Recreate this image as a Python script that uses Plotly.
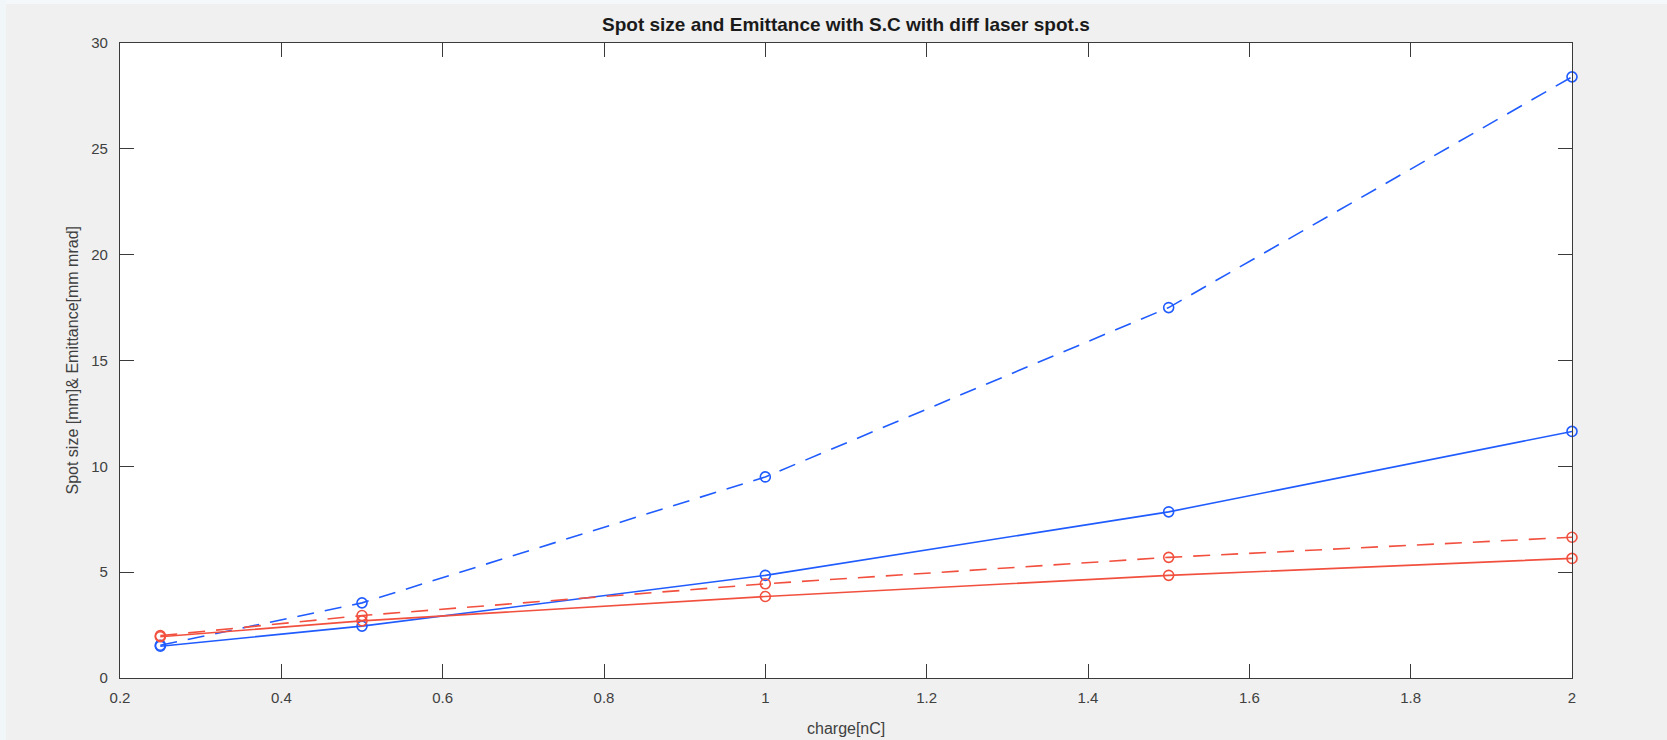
import plotly.graph_objects as go

# charge in nC
charge = [0.25, 0.5, 1.0, 1.5, 2.0]

# spot size / emittance series
blue_dashed = [1.55, 3.55, 9.5, 17.5, 28.4]
blue_solid = [1.5, 2.45, 4.85, 7.85, 11.65]
red_dashed = [2.0, 2.95, 4.45, 5.7, 6.65]
red_solid = [1.95, 2.7, 3.85, 4.85, 5.65]

x_ticks = [0.2, 0.4, 0.6, 0.8, 1.0, 1.2, 1.4, 1.6, 1.8, 2.0]
x_tick_text = ["0.2", "0.4", "0.6", "0.8", "1", "1.2", "1.4", "1.6", "1.8", "2"]
y_ticks = [0, 5, 10, 15, 20, 25, 30]

BLUE = "#1f5bff"
RED = "#f2503f"
AXIS = "#3a3a3a"
FONT = "Liberation Sans, Arial, Helvetica, sans-serif"

W, H = 1667, 740
L, R, T, B = 120, 95, 43, 62
PW, PH = W - L - R, H - T - B

fig = go.Figure()

series = [
    (blue_dashed, BLUE, "17px,11px"),
    (blue_solid, BLUE, "solid"),
    (red_dashed, RED, "17px,11px"),
    (red_solid, RED, "solid"),
]
for ys, color, dash in series:
    fig.add_trace(go.Scatter(
        x=charge, y=ys, mode="lines+markers",
        line=dict(color=color, width=1.6, dash=dash),
        marker=dict(symbol="circle-open", size=10, color=color,
                    line=dict(width=1.6, color=color)),
        showlegend=False, cliponaxis=False,
    ))

axis_common = dict(
    showline=True, linecolor=AXIS, linewidth=1.3, mirror="ticks",
    ticks="inside", ticklen=14, tickwidth=1.1, tickcolor=AXIS,
    showgrid=False, zeroline=False,
    tickfont=dict(family=FONT, size=15, color="#404040"),
)

fig.update_xaxes(range=[0.2, 2.0], tickvals=x_ticks, ticktext=x_tick_text,
                 ticklabelstandoff=6, **axis_common)
fig.update_yaxes(range=[0, 30], tickvals=y_ticks,
                 ticklabelstandoff=8, **axis_common)

# outer window strips along the top and left edges
fig.add_shape(type="rect", xref="paper", yref="paper", layer="below",
              x0=-L / PW, x1=(W - L) / PW, y0=1 + (T - 4) / PH, y1=1 + T / PH,
              fillcolor="#f4f8fb", line=dict(width=0))
fig.add_shape(type="rect", xref="paper", yref="paper", layer="below",
              x0=-L / PW, x1=(6 - L) / PW, y0=-B / PH, y1=1 + T / PH,
              fillcolor="#f1f6f9", line=dict(width=0))

fig.add_annotation(
    text="Spot size and Emittance with S.C with diff laser spot.s",
    xref="paper", yref="paper", x=0.5, y=1 + (T - 24) / PH,
    xanchor="center", yanchor="middle", showarrow=False,
    font=dict(family=FONT, size=19, color="#1a1a1a", weight="bold"),
)
fig.add_annotation(
    text="charge[nC]", xref="paper", yref="paper",
    x=0.5, y=-(728 - (H - B)) / PH, xanchor="center", yanchor="middle",
    showarrow=False, font=dict(family=FONT, size=16, color="#404040"),
)
fig.add_annotation(
    text="Spot size [mm]& Emittance[mm mrad]", xref="paper", yref="paper",
    x=-(L - 72) / PW, y=0.5, xanchor="center", yanchor="middle", textangle=-90,
    showarrow=False, font=dict(family=FONT, size=16, color="#404040"),
)

fig.update_layout(
    width=W, height=H,
    margin=dict(l=L, r=R, t=T, b=B),
    paper_bgcolor="#f0f0f0", plot_bgcolor="white",
)

fig.write_html("out.html")
